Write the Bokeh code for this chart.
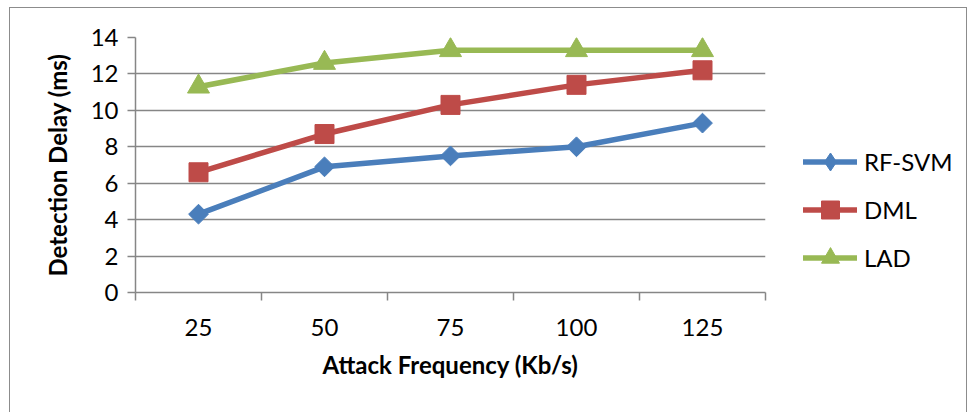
import math
from bokeh.plotting import figure
from bokeh.layouts import row
from bokeh.models import FixedTicker, Legend, LegendItem, Range1d
from bokeh.embed import file_html
from bokeh.resources import INLINE

categories = ["25", "50", "75", "100", "125"]
rf_svm = [4.3, 6.9, 7.5, 8.0, 9.3]
dml = [6.6, 8.7, 10.3, 11.4, 12.2]
lad = [11.3, 12.6, 13.3, 13.3, 13.3]
y_ticks = [0, 2, 4, 6, 8, 10, 12, 14]
series_names = ["RF-SVM", "DML", "LAD"]

FONT = "Lato"
FS = "24px"
GRAY = "#868686"

n = len(categories)
x = list(range(1, n + 1))

p = figure(width=760, height=404,
           x_range=Range1d(0.5, n + 0.5), y_range=Range1d(y_ticks[0], y_ticks[-1]),
           output_backend="svg", toolbar_location=None,
           min_border_left=125, min_border_right=5, min_border_top=29, min_border_bottom=120)
p.outline_line_color = None
p.background_fill_color = "white"
p.border_fill_color = "white"

# x axis: labels at category centres, tick marks between categories
p.xaxis.ticker = FixedTicker(ticks=x, minor_ticks=[i + 0.5 for i in range(0, n + 1)])
p.xaxis.major_label_overrides = {i + 1: c for i, c in enumerate(categories)}
p.xaxis.major_tick_out = 0
p.xaxis.major_tick_in = 0
p.xaxis.minor_tick_out = 8
p.xaxis.minor_tick_in = 0
p.xaxis.minor_tick_line_color = GRAY
p.xaxis.minor_tick_line_width = 1.5
p.xaxis.axis_line_color = GRAY
p.xaxis.axis_line_width = 1.5
p.xaxis.major_label_text_font = FONT
p.xaxis.major_label_text_font_size = FS
p.xaxis.major_label_text_color = "black"
p.xaxis.major_label_standoff = 18
p.xaxis.axis_label = "Attack Frequency (Kb/s)"
p.xaxis.axis_label_text_font = FONT
p.xaxis.axis_label_text_font_size = FS
p.xaxis.axis_label_text_font_style = "bold"
p.xaxis.axis_label_text_color = "black"
p.xaxis.axis_label_standoff = 11

p.yaxis.ticker = FixedTicker(ticks=y_ticks, minor_ticks=[])
p.yaxis.major_tick_out = 8
p.yaxis.major_tick_in = 0
p.yaxis.major_tick_line_color = GRAY
p.yaxis.major_tick_line_width = 1.5
p.yaxis.axis_line_color = GRAY
p.yaxis.axis_line_width = 1.5
p.yaxis.major_label_text_font = FONT
p.yaxis.major_label_text_font_size = FS
p.yaxis.major_label_text_color = "black"
p.yaxis.major_label_standoff = 9
p.yaxis.axis_label = "Detection Delay (ms)"
p.yaxis.axis_label_text_font = FONT
p.yaxis.axis_label_text_font_size = FS
p.yaxis.axis_label_text_font_style = "bold"
p.yaxis.axis_label_text_color = "black"
p.yaxis.axis_label_standoff = 16

p.xgrid.grid_line_color = None
p.ygrid.ticker = FixedTicker(ticks=y_ticks[1:])
p.ygrid.grid_line_color = GRAY
p.ygrid.grid_line_width = 1.5

colors = ["#4A7EBB", "#BE4B48", "#98B954"]
styles = [dict(marker="square", size=14, angle=math.pi / 4),
          dict(marker="square", size=19, angle=0),
          dict(marker="triangle", size=22, angle=0)]
legend_markers = ["diamond", "square", "triangle"]
data = [rf_svm, dml, lad]

for ys, col, st in zip(data, colors, styles):
    p.line(x, ys, line_color=col, line_width=5.5, line_join="round", line_cap="round")
    p.scatter(x, ys, marker=st["marker"], size=st["size"], angle=st["angle"],
              fill_color=col, line_color=col)

# legend panel (a second figure whose own view holds only the legend)
lg = figure(width=196, height=404, x_range=Range1d(100, 101), y_range=Range1d(100, 101),
            output_backend="svg", toolbar_location=None,
            min_border_left=0, min_border_right=0, min_border_top=0, min_border_bottom=0)
lg.axis.visible = False
lg.grid.visible = False
lg.outline_line_color = None
lg.border_fill_color = "white"

items = []
for name, ys, col, mk in zip(series_names, data, colors, legend_markers):
    ln = lg.line(x, ys, line_color=col, line_width=5.5, line_join="round", line_cap="round")
    sc = lg.scatter(x, ys, marker=mk, size=18, fill_color=col, line_color=col)
    items.append(LegendItem(label=name, renderers=[ln, sc]))

legend = Legend(items=items, location=(33, 12), padding=0, margin=0,
                border_line_color=None, background_fill_alpha=0,
                glyph_width=54, glyph_height=45, spacing=3, label_standoff=7,
                label_text_font=FONT, label_text_font_size=FS, label_text_color="black")
lg.add_layout(legend, "center")

layout = row(p, lg, spacing=0,
             styles={"border-left": "1px solid #8c8c8c", "border-top": "1px solid #8c8c8c",
                     "border-right": "1px solid #8c8c8c", "margin-left": "9px",
                     "margin-top": "7px"})

open("out.html", "w").write(file_html(layout, INLINE))
